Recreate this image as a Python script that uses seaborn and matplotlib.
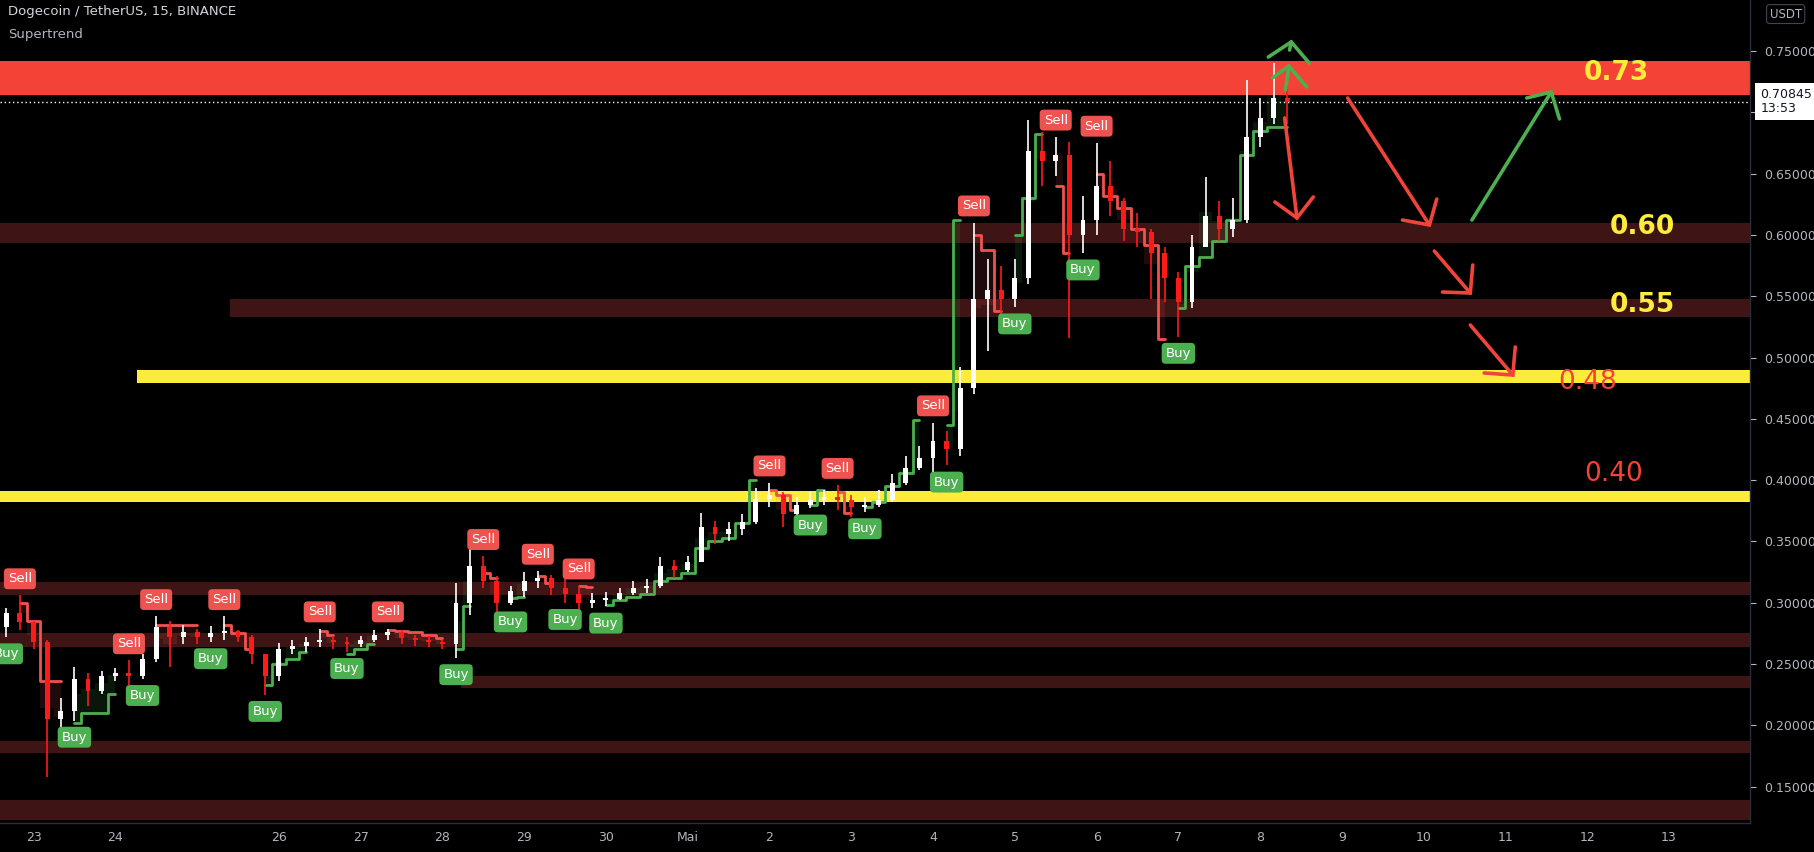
import numpy as np
import pandas as pd
import matplotlib
matplotlib.use('Agg')
import matplotlib.pyplot as plt
import matplotlib.dates as mdates
import matplotlib.transforms as mtrans
import seaborn as sns

# 4h candles, first one at Apr 22 16:00
first_open = 0.280
close = [0.292, 0.284, 0.268, 0.205, 0.212, 0.238, 0.228, 0.240, 0.243, 0.240,
         0.254, 0.280, 0.272, 0.276, 0.272, 0.275, 0.277, 0.272, 0.258, 0.240,
         0.262, 0.265, 0.268, 0.270, 0.268, 0.266, 0.270, 0.274, 0.276, 0.271,
         0.270, 0.268, 0.266, 0.300, 0.330, 0.318, 0.300, 0.310, 0.318, 0.320,
         0.312, 0.307, 0.300, 0.302, 0.303, 0.308, 0.312, 0.314, 0.330, 0.327,
         0.333, 0.362, 0.356, 0.360, 0.366, 0.385, 0.388, 0.372, 0.380, 0.384,
         0.386, 0.384, 0.378, 0.380, 0.384, 0.398, 0.410, 0.418, 0.432, 0.425,
         0.475, 0.548, 0.555, 0.548, 0.565, 0.668, 0.660, 0.665, 0.600, 0.612,
         0.640, 0.628, 0.605, 0.602, 0.585, 0.565, 0.545, 0.590, 0.615, 0.605,
         0.612, 0.680, 0.695, 0.712, 0.70845]
high = [0.296, 0.306, 0.285, 0.270, 0.222, 0.248, 0.243, 0.244, 0.247, 0.253,
        0.258, 0.289, 0.285, 0.282, 0.279, 0.281, 0.289, 0.278, 0.274, 0.258,
        0.267, 0.270, 0.272, 0.279, 0.273, 0.272, 0.273, 0.278, 0.279, 0.277,
        0.274, 0.273, 0.270, 0.316, 0.345, 0.338, 0.322, 0.314, 0.325, 0.326,
        0.323, 0.320, 0.314, 0.308, 0.309, 0.312, 0.318, 0.319, 0.337, 0.335,
        0.338, 0.373, 0.367, 0.366, 0.372, 0.394, 0.398, 0.390, 0.386, 0.390,
        0.392, 0.396, 0.388, 0.386, 0.392, 0.405, 0.420, 0.428, 0.447, 0.440,
        0.492, 0.610, 0.580, 0.575, 0.580, 0.694, 0.684, 0.680, 0.676, 0.632,
        0.675, 0.660, 0.630, 0.618, 0.605, 0.590, 0.570, 0.600, 0.647, 0.628,
        0.630, 0.726, 0.712, 0.740, 0.728]
low = [0.272, 0.278, 0.262, 0.158, 0.192, 0.204, 0.216, 0.226, 0.236, 0.233,
       0.238, 0.252, 0.248, 0.266, 0.266, 0.268, 0.270, 0.268, 0.250, 0.225,
       0.236, 0.258, 0.260, 0.264, 0.262, 0.260, 0.264, 0.268, 0.270, 0.266,
       0.265, 0.264, 0.262, 0.255, 0.290, 0.312, 0.292, 0.298, 0.305, 0.312,
       0.306, 0.300, 0.294, 0.296, 0.297, 0.302, 0.306, 0.308, 0.312, 0.320,
       0.325, 0.333, 0.348, 0.350, 0.355, 0.364, 0.378, 0.362, 0.366, 0.377,
       0.380, 0.376, 0.370, 0.374, 0.378, 0.382, 0.396, 0.408, 0.398, 0.412,
       0.420, 0.470, 0.505, 0.535, 0.541, 0.560, 0.640, 0.648, 0.516, 0.585,
       0.600, 0.615, 0.595, 0.590, 0.548, 0.545, 0.517, 0.540, 0.590, 0.595,
       0.598, 0.610, 0.672, 0.690, 0.690]
supertrend = [0.270, 0.300, 0.285, 0.236, 0.236, 0.202, 0.210, 0.210, 0.226, 0.251,
              0.245, 0.282, 0.282, 0.282, 0.282, 0.268, 0.282, 0.275, 0.262, 0.233,
              0.250, 0.254, 0.260, 0.277, 0.274, 0.258, 0.262, 0.266, 0.278, 0.277,
              0.276, 0.274, 0.271, 0.262, 0.297, 0.324, 0.320, 0.304, 0.305, 0.322,
              0.316, 0.300, 0.314, 0.313, 0.298, 0.302, 0.305, 0.307, 0.318, 0.320,
              0.324, 0.345, 0.350, 0.353, 0.365, 0.400, 0.392, 0.388, 0.376, 0.380,
              0.392, 0.390, 0.373, 0.378, 0.382, 0.395, 0.406, 0.449, 0.412, 0.445,
              0.612, 0.600, 0.588, 0.538, 0.600, 0.630, 0.682, 0.640, 0.585, 0.600,
              0.650, 0.632, 0.622, 0.605, 0.592, 0.515, 0.540, 0.575, 0.582, 0.595,
              0.612, 0.665, 0.685, 0.688, 0.688]
buy_idx = [0, 5, 10, 15, 19, 25, 33, 37, 41, 44, 59, 63, 69, 74, 79, 86]
sell_idx = [1, 9, 11, 16, 23, 28, 35, 39, 42, 56, 61, 68, 71, 77, 80]
last_price = 0.70845

# horizontal zones: low, high, first day after Apr 23 (None = whole width), colour
zones = [(0.714, 0.7415, None, '#f44336'),
         (0.5934, 0.6094, None, '#3e1414'),
         (0.5330, 0.5481, 2.40, '#3e1414'),
         (0.4792, 0.4896, 1.26, '#ffeb3b'),
         (0.3821, 0.3915, None, '#ffeb3b'),
         (0.3066, 0.3170, None, '#3e1414'),
         (0.2642, 0.2755, None, '#3e1414'),
         (0.2302, 0.2406, 5.23, '#3e1414'),
         (0.1773, 0.1877, None, '#3e1414'),
         (0.1226, 0.1396, None, '#3e1414')]

level_text = ['0.73', '0.60', '0.55', '0.48', '0.40']
level_day = [19.36, 19.68, 19.68, 19.01, 19.32]
level_price = [0.732, 0.6064, 0.5427, 0.480, 0.405]
level_color = ['#ffeb3b', '#ffeb3b', '#ffeb3b', '#f44336', '#f44336']
level_weight = ['bold', 'bold', 'bold', 'normal', 'normal']

# drawn arrows: tail, tip, head left, head right as (day, price)
arrows = [((15.36, 0.7507), (15.38, 0.7573), (15.10, 0.7450), (15.60, 0.7401), '#4caf50'),
          ((15.31, 0.7181), (15.35, 0.7377), (15.15, 0.7279), (15.57, 0.7206), '#4caf50'),
          ((15.30, 0.6953), (15.45, 0.6138), (15.18, 0.6268), (15.65, 0.6309), '#f0443a'),
          ((16.07, 0.7116), (17.07, 0.6081), (16.74, 0.6121), (17.16, 0.6292), '#f0443a'),
          ((17.59, 0.6121), (18.56, 0.7165), (18.26, 0.7116), (18.66, 0.6945), '#4caf50'),
          ((17.13, 0.5868), (17.57, 0.5526), (17.23, 0.5534), (17.60, 0.5754), '#f0443a'),
          ((17.57, 0.5265), (18.09, 0.4857), (17.74, 0.4874), (18.12, 0.5086), '#f0443a')]

tick_days = ['2021-04-23', '2021-04-24', '2021-04-26', '2021-04-27', '2021-04-28',
             '2021-04-29', '2021-04-30', '2021-05-01', '2021-05-02', '2021-05-03',
             '2021-05-04', '2021-05-05', '2021-05-06', '2021-05-07', '2021-05-08',
             '2021-05-09', '2021-05-10', '2021-05-11', '2021-05-12', '2021-05-13']
tick_labels = ['23', '24', '26', '27', '28', '29', '30', 'Mai', '2', '3', '4', '5',
               '6', '7', '8', '9', '10', '11', '12', '13']
price_ticks = [0.15, 0.20, 0.25, 0.30, 0.35, 0.40, 0.45, 0.50, 0.55, 0.60, 0.65, 0.70, 0.75]

sns.set_theme(style='dark', rc={'axes.facecolor': 'black', 'figure.facecolor': 'black'})
plt.rcParams['font.family'] = ['DejaVu Sans']

day0 = pd.Timestamp('2021-04-23')
def dnum(d):
    return mdates.date2num(day0 + pd.to_timedelta(d, unit='D'))

times = pd.date_range('2021-04-22 16:00', periods=len(close), freq='4h')
t = mdates.date2num(times)
opens = np.array([first_open] + close[:-1])
close_a = np.array(close)
high_a = np.array(high)
low_a = np.array(low)
st = np.array(supertrend)

direction = []
d = 1
for k in range(len(close)):
    if k in buy_idx:
        d = 1
    if k in sell_idx:
        d = -1
    direction.append(d)
direction = np.array(direction)
seg = np.concatenate([[0], np.cumsum(direction[1:] != direction[:-1])])

fig = plt.figure(figsize=(18.14, 8.52), dpi=100)
ax = fig.add_axes([0.0, 0.0344, 0.9647, 0.9656])
ax.set_facecolor('black')
x0, x1 = dnum(-0.41), dnum(20.99)
ax.set_xlim(x0, x1)
ax.set_ylim(0.1207, 0.7915)

for lo, hi, start, col in zones:
    xmin = 0 if start is None else (dnum(start) - x0) / (x1 - x0)
    ax.axhspan(lo, hi, xmin=xmin, xmax=1, color=col, lw=0, zorder=1)

ax.axhline(last_price, color='white', lw=1, ls=(0, (1, 2)), zorder=2)

# supertrend fill and line
df = pd.DataFrame({'t': t, 'st': st, 'seg': seg.astype(str), 'dir': direction,
                   'mid': (high_a + low_a) / 2})
pal = {}
for s, g in df.groupby('seg'):
    col = '#4caf50' if g['dir'].iloc[0] > 0 else '#ef5350'
    pal[s] = col
    ax.fill_between(g['t'], g['st'], g['mid'], step='mid', color=col, alpha=0.13, lw=0, zorder=2)
sns.lineplot(data=df, x='t', y='st', hue='seg', palette=pal, legend=False,
             linewidth=2, drawstyle='steps-mid', estimator=None, ax=ax, zorder=3)

# candles
up = close_a >= opens
colors = np.where(up, '#ffffff', '#ff1a1a')
ax.vlines(t, low_a, high_a, colors=colors, lw=1.2, zorder=4)
ax.bar(t, np.maximum(np.abs(close_a - opens), 0.0015), bottom=np.minimum(opens, close_a),
       width=0.06, color=colors, lw=0, zorder=4)

for k in sell_idx:
    ax.annotate('Sell', xy=(t[k], high_a[k]), xytext=(0, 12), textcoords='offset points',
                ha='center', va='center', color='white', fontsize=9.5, zorder=6,
                bbox=dict(boxstyle='round,pad=0.3', fc='#ef5350', ec='none'))
for k in buy_idx:
    ax.annotate('Buy', xy=(t[k], low_a[k]), xytext=(0, -12), textcoords='offset points',
                ha='center', va='center', color='white', fontsize=9.5, zorder=6,
                bbox=dict(boxstyle='round,pad=0.3', fc='#4caf50', ec='none'))

for tail, tip, hl, hr, col in arrows:
    ax.plot([dnum(tail[0]), dnum(tip[0])], [tail[1], tip[1]], color=col, lw=2.6,
            solid_capstyle='round', zorder=7)
    ax.plot([dnum(hl[0]), dnum(tip[0]), dnum(hr[0])], [hl[1], tip[1], hr[1]], color=col,
            lw=2.6, solid_capstyle='round', solid_joinstyle='miter', zorder=7)

for txt, dd, pp, col, w in zip(level_text, level_day, level_price, level_color, level_weight):
    ax.text(dnum(dd), pp, txt, color=col, fontsize=19, fontweight=w, ha='center',
            va='center', zorder=8)

# axes styling
ax.yaxis.tick_right()
ax.set_yticks(price_ticks)
# the 0.70000 label sits under the last-price tag in the original
ax.set_yticklabels(['' if abs(v - 0.70) < 1e-9 else f'{v:.5f}' for v in price_ticks])
ax.set_xticks([mdates.date2num(pd.Timestamp(s)) for s in tick_days])
ax.set_xticklabels(tick_labels)
ax.tick_params(axis='both', colors='#b2b5be', labelsize=9, length=4, width=0.8)
ax.tick_params(axis='y', pad=6)
ax.tick_params(axis='x', pad=2)
ax.set_xlabel('')
ax.set_ylabel('')
ax.grid(False)
for side in ['top', 'left']:
    ax.spines[side].set_visible(False)
for side in ['right', 'bottom']:
    ax.spines[side].set_visible(True)
    ax.spines[side].set_color('#2a2e39')
    ax.spines[side].set_linewidth(1)

trans = mtrans.blended_transform_factory(ax.transAxes, ax.transData)
ax.text(1.006, last_price, '0.70845\n13:53', transform=trans, ha='left', va='center',
        fontsize=9, color='#131722', linespacing=1.1, clip_on=False, zorder=9,
        bbox=dict(boxstyle='square,pad=0.4', fc='white', ec='none'))

fig.text(0.9755, 0.9835, 'USDT', ha='left', va='center', fontsize=8.5, color='#b2b5be',
         bbox=dict(boxstyle='round,pad=0.25', fc='black', ec='#434651', lw=0.8))
fig.text(0.0044, 0.986, 'Dogecoin / TetherUS, 15, BINANCE', ha='left', va='center',
         fontsize=9.5, color='#d1d4dc')
fig.text(0.0044, 0.960, 'Supertrend', ha='left', va='center', fontsize=9.5, color='#b2b5be')

fig.savefig('out.png', dpi=100, facecolor='black')
